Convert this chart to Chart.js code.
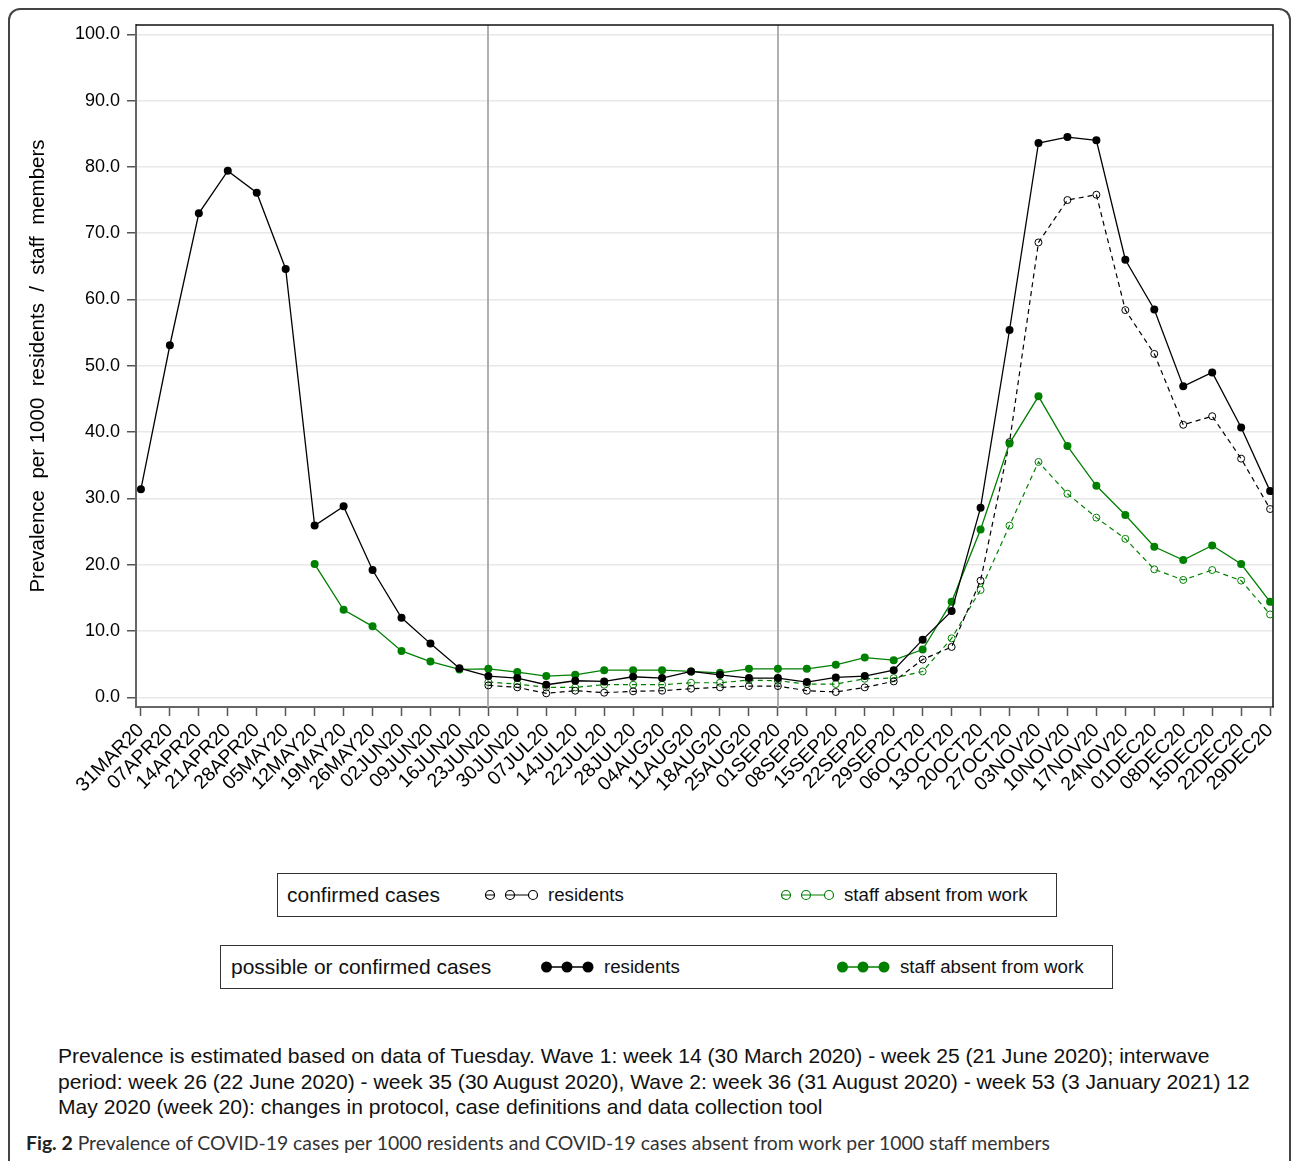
<!DOCTYPE html>
<html>
<head>
<meta charset="utf-8">
<script src="https://cdn.jsdelivr.net/npm/chart.js"></script>
<style type="text/css">
  body{
    margin: 0;
    width: 1292px;
    height: 1161px;
    overflow: hidden;
    background: #fff;
    position: relative;
    font-family: "Liberation Sans", Arial, sans-serif;
  }
  #frame{
    position: absolute;
    left: 8px;
    top: 8px;
    width: 1279px;
    height: 1200px;
    border: 2px solid #444;
    border-bottom: none;
    border-radius: 12px 12px 0 0;
  }
  #chart{
    position: absolute;
    left: 0;
    top: 0;
  }
  .legend{
    position: absolute;
    height: 42px;
    border: 1.5px solid #333;
    font-size: 18.7px;
    color: #111;
  }
  .legend > *{
    position: absolute;
    top: 50%;
    transform: translateY(-50%);
    white-space: nowrap;
  }
  .legend .group{
    font-size: 21px;
  }
  #note{
    position: absolute;
    left: 58px;
    top: 1043px;
    font-size: 21.1px;
    line-height: 25.5px;
    color: #111;
    white-space: nowrap;
  }
  #caption{
    position: absolute;
    left: 26px;
    top: 1131px;
    font-family: Lato, "Open Sans", sans-serif;
    font-size: 19.4px;
    color: #333;
    white-space: nowrap;
  }
  #caption b{
    color: #222;
  }
</style>
</head>
<body>
<div id="frame"></div>
<canvas id="chart" width="1292" height="860"></canvas>

<div class="legend" style="left:277px; top:873px; width:778px;">
  <span class="group" style="left:9px;">confirmed cases</span>
  <svg style="left:206px;" width="56" height="14">
    <path d="M1.5 7H10.5M21 7H44" stroke="#000" stroke-width="1.2" fill="none"/>
    <circle cx="6" cy="7" r="4.5" stroke="#000" stroke-width="1.2" fill="none"/>
    <circle cx="26" cy="7" r="4.5" stroke="#000" stroke-width="1.2" fill="none"/>
    <circle cx="49" cy="7" r="4.5" stroke="#000" stroke-width="1.2" fill="none"/>
  </svg>
  <span style="left:270px;">residents</span>
  <svg style="left:502px;" width="56" height="14">
    <path d="M1.5 7H10.5M21 7H44" stroke="#008000" stroke-width="1.2" fill="none"/>
    <circle cx="6" cy="7" r="4.5" stroke="#008000" stroke-width="1.2" fill="none"/>
    <circle cx="26" cy="7" r="4.5" stroke="#008000" stroke-width="1.2" fill="none"/>
    <circle cx="49" cy="7" r="4.5" stroke="#008000" stroke-width="1.2" fill="none"/>
  </svg>
  <span style="left:566px;">staff absent from work</span>
</div>

<div class="legend" style="left:220px; top:945px; width:891px;">
  <span class="group" style="left:10px;">possible or confirmed cases</span>
  <svg style="left:319px;" width="56" height="14">
    <path d="M6 7H48" stroke="#000" stroke-width="1.4" fill="none"/>
    <circle cx="6.5" cy="7" r="5.5" fill="#000"/>
    <circle cx="27" cy="7" r="5.5" fill="#000"/>
    <circle cx="48" cy="7" r="5.5" fill="#000"/>
  </svg>
  <span style="left:383px;">residents</span>
  <svg style="left:615px;" width="56" height="14">
    <path d="M6 7H48" stroke="#008000" stroke-width="1.4" fill="none"/>
    <circle cx="6.5" cy="7" r="5.5" fill="#008000"/>
    <circle cx="27" cy="7" r="5.5" fill="#008000"/>
    <circle cx="48" cy="7" r="5.5" fill="#008000"/>
  </svg>
  <span style="left:679px;">staff absent from work</span>
</div>

<div id="note">Prevalence is estimated based on data of Tuesday. Wave 1: week 14 (30 March 2020) - week 25 (21 June 2020); interwave<br>period: week 26 (22 June 2020) - week 35 (30 August 2020), Wave 2: week 36 (31 August 2020) - week 53 (3 January 2021) 12<br>May 2020 (week 20): changes in protocol, case definitions and data collection tool</div>
<div id="caption"><b>Fig. 2</b> Prevalence of COVID-19 cases per 1000 residents and COVID-19 cases absent from work per 1000 staff members</div>

<script>
// weekly Tuesdays
const weeks = ['31MAR20','07APR20','14APR20','21APR20','28APR20','05MAY20','12MAY20','19MAY20','26MAY20','02JUN20',
  '09JUN20','16JUN20','23JUN20','30JUN20','07JUL20','14JUL20','22JUL20','28JUL20','04AUG20','11AUG20',
  '18AUG20','25AUG20','01SEP20','08SEP20','15SEP20','22SEP20','29SEP20','06OCT20','13OCT20','20OCT20',
  '27OCT20','03NOV20','10NOV20','17NOV20','24NOV20','01DEC20','08DEC20','15DEC20','22DEC20','29DEC20'];

// possible or confirmed cases
const residentsPossible = [31.4,53.1,73.0,79.4,76.1,64.6,25.9,28.8,19.2,12.0,
  8.1,4.4,3.2,2.9,1.9,2.5,2.4,3.1,2.9,3.9,
  3.4,2.9,2.9,2.3,3.0,3.2,4.1,8.7,13.0,28.6,
  55.4,83.6,84.5,84.0,66.0,58.5,46.9,49.0,40.7,31.1];
const staffPossible = [null,null,null,null,null,null,20.1,13.2,10.7,7.0,
  5.4,4.2,4.3,3.8,3.2,3.4,4.1,4.1,4.1,3.9,
  3.7,4.3,4.3,4.3,4.9,6.0,5.6,7.2,14.4,25.3,
  38.3,45.4,37.9,31.9,27.5,22.7,20.7,22.9,20.1,14.4];

// confirmed cases
const residentsConfirmed = [null,null,null,null,null,null,null,null,null,null,
  null,null,1.8,1.5,0.6,1.0,0.7,0.9,1.0,1.3,
  1.5,1.7,1.7,1.0,0.8,1.5,2.4,5.7,7.6,17.6,
  38.5,68.6,75.0,75.8,58.4,51.8,41.1,42.4,36.0,28.4];
const staffConfirmed = [null,null,null,null,null,null,null,null,null,null,
  null,null,2.3,2.0,1.5,1.5,1.9,1.9,1.9,2.2,
  2.2,2.6,2.5,2.0,2.0,2.8,2.9,3.9,8.9,16.2,
  25.9,35.5,30.7,27.1,23.9,19.3,17.7,19.2,17.6,12.5];

const yTicks = [0,10,20,30,40,50,60,70,80,90,100];
// wave boundaries (23JUN20, 01SEP20)
const waveLines = [12, 22];

const GREEN = '#008000';

const filled = (color) => ({
  borderColor: color,
  backgroundColor: color,
  pointBackgroundColor: color,
  pointBorderColor: color,
  pointRadius: 4,
  pointBorderWidth: 0,
  borderWidth: 1.3
});
const hollow = (color) => ({
  borderColor: color,
  backgroundColor: 'rgba(0,0,0,0)',
  pointBackgroundColor: 'rgba(0,0,0,0)',
  pointBorderColor: color,
  pointRadius: 3.5,
  pointBorderWidth: 1,
  borderWidth: 1.2,
  borderDash: [5, 4]
});

const framePlugin = {
  id: 'frame',
  beforeDatasetsDraw(chart){
    const {ctx, chartArea, scales} = chart;
    ctx.save();
    ctx.strokeStyle = '#b0b0b0';
    ctx.lineWidth = 2;
    waveLines.forEach(i => {
      const x = Math.round(scales.x.getPixelForValue(i));
      ctx.beginPath();
      ctx.moveTo(x, chartArea.top);
      ctx.lineTo(x, chartArea.bottom);
      ctx.stroke();
    });
    ctx.strokeStyle = '#111';
    ctx.lineWidth = 1.5;
    ctx.beginPath();
    ctx.moveTo(chartArea.left, chartArea.top);
    ctx.lineTo(chartArea.right, chartArea.top);
    ctx.lineTo(chartArea.right, chartArea.bottom);
    ctx.stroke();
    ctx.restore();
  }
};

new Chart(document.getElementById('chart'), {
  type: 'line',
  data: {
    labels: weeks.map((w, i) => i),
    datasets: [
      Object.assign({label: 'possible or confirmed cases - residents', data: residentsPossible}, filled('#000')),
      Object.assign({label: 'possible or confirmed cases - staff absent from work', data: staffPossible}, filled(GREEN)),
      Object.assign({label: 'confirmed cases - residents', data: residentsConfirmed}, hollow('#000')),
      Object.assign({label: 'confirmed cases - staff absent from work', data: staffConfirmed}, hollow(GREEN))
    ]
  },
  options: {
    responsive: false,
    animation: false,
    layout: { padding: { left: 0, top: 25, right: 19, bottom: 0 } },
    elements: { line: { tension: 0 } },
    plugins: {
      legend: { display: false },
      tooltip: { enabled: false }
    },
    scales: {
      x: {
        type: 'linear',
        min: -0.17,
        max: 39.1,
        afterBuildTicks: (scale) => { scale.ticks = weeks.map((w, i) => ({value: i})); },
        afterFit: (scale) => { scale.height = 153; },
        grid: {
          drawOnChartArea: false,
          tickLength: 9,
          tickColor: '#555',
          tickWidth: 1.5
        },
        border: { display: true, color: '#666', width: 2 },
        ticks: {
          autoSkip: false,
          minRotation: 45,
          maxRotation: 45,
          padding: 3,
          color: '#000',
          font: { family: '"Liberation Sans", Arial', size: 19.5 },
          callback: (v) => weeks[v]
        }
      },
      y: {
        min: -1.46,
        max: 101.4,
        afterBuildTicks: (scale) => { scale.ticks = yTicks.map(v => ({value: v})); },
        afterFit: (scale) => { scale.width = 136; },
        grid: {
          color: '#e8e8e8',
          lineWidth: 1.5,
          tickLength: 14,
          tickColor: '#555',
          tickWidth: 1.5,
          tickBorderDash: [9, 5],
          tickBorderDashOffset: 9
        },
        border: { display: true, color: '#666', width: 2 },
        ticks: {
          padding: 2,
          color: '#000',
          font: { family: '"Liberation Sans", Arial', size: 18 },
          callback: (v) => v.toFixed(1)
        },
        title: {
          display: true,
          text: 'Prevalence  per 1000  residents  /  staff  members',
          color: '#000',
          font: { family: '"Liberation Sans", Arial', size: 20.5 },
          padding: { top: 26, bottom: 0 }
        }
      }
    }
  },
  plugins: [framePlugin]
});
</script>
</body>
</html>
